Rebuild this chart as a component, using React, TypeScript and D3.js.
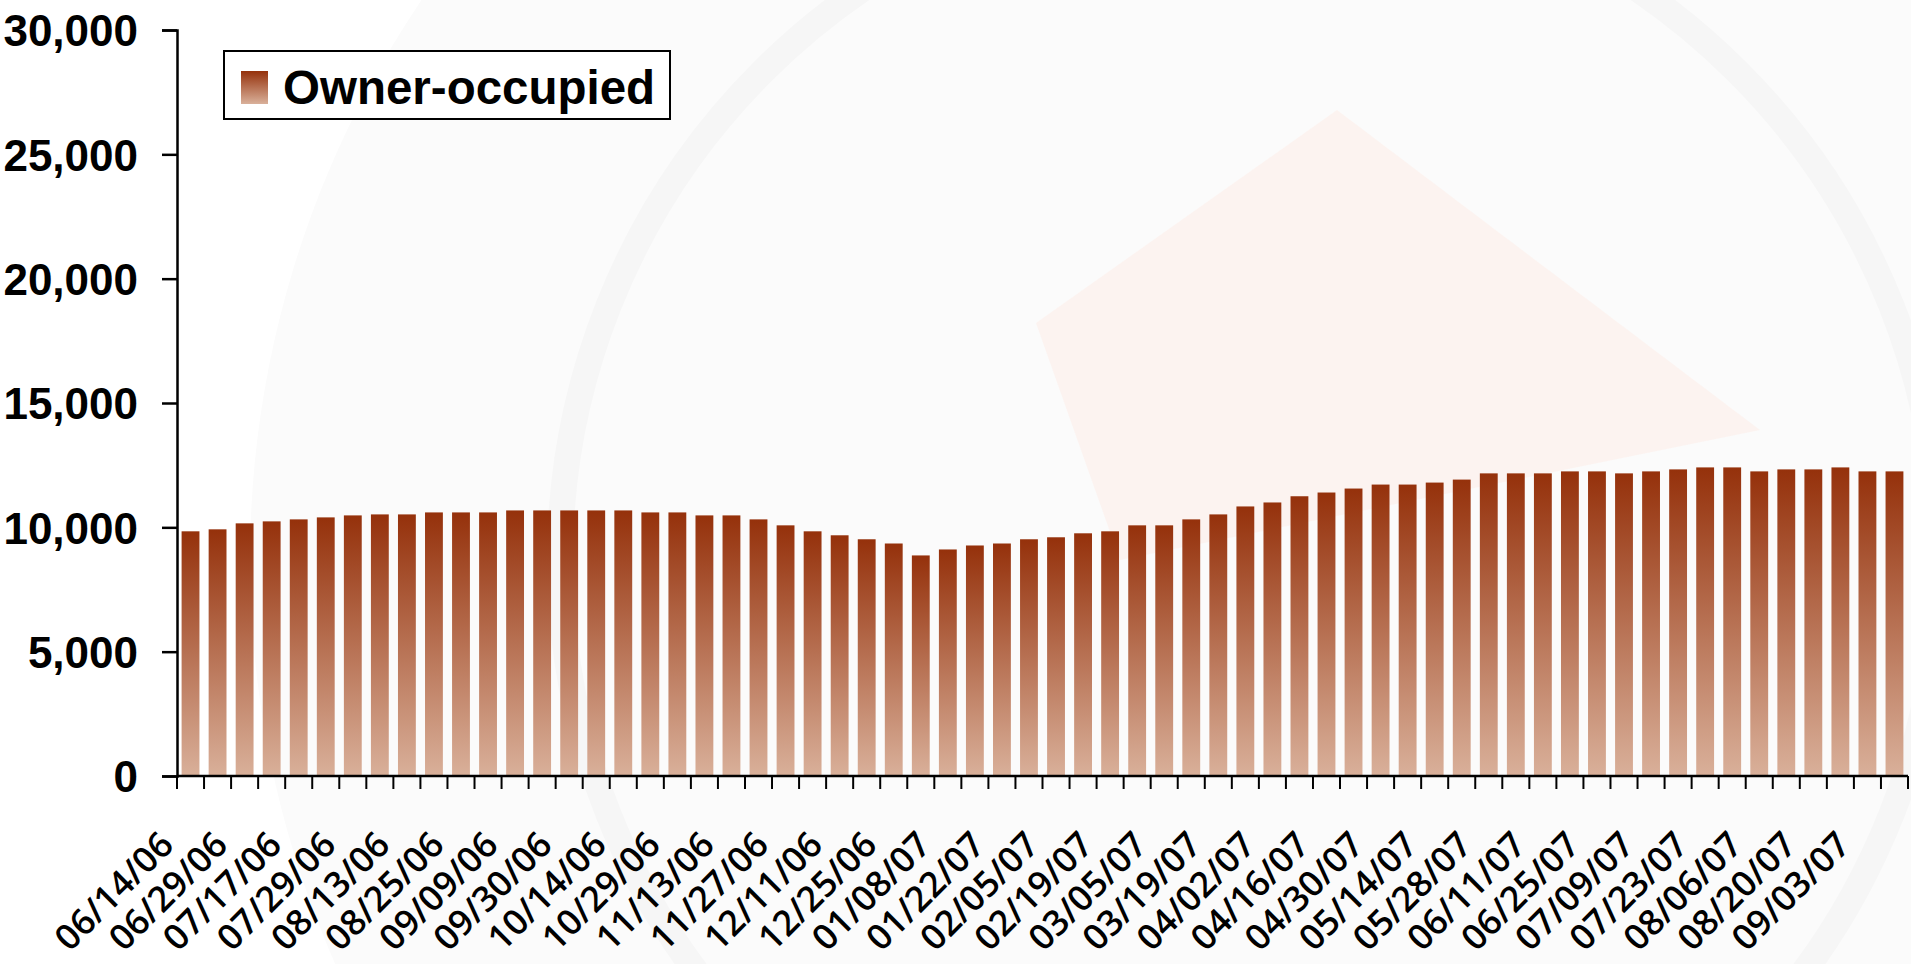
import React, { useEffect, useRef } from 'react';
import * as d3 from 'd3';

// weekly counts, one bar per survey date (labels shown on every second bar)
const values = [
  9840, 9920, 10160, 10240, 10320, 10400, 10480, 10520, 10520, 10600,
  10600, 10600, 10680, 10680, 10680, 10680, 10680, 10600, 10600, 10480,
  10480, 10320, 10080, 9840, 9680, 9520, 9350, 8870, 9110, 9270,
  9350, 9520, 9600, 9760, 9840, 10080, 10080, 10320, 10520, 10840,
  11000, 11250, 11400, 11560, 11720, 11720, 11800, 11920, 12170, 12170,
  12170, 12250, 12250, 12170, 12250, 12330, 12410, 12410, 12250, 12330,
  12330, 12410, 12250, 12250,
];

const tickLabels = [
  '06/14/06', '06/29/06', '07/17/06', '07/29/06', '08/13/06', '08/25/06', '09/09/06', '09/30/06',
  '10/14/06', '10/29/06', '11/13/06', '11/27/06', '12/11/06', '12/25/06', '01/08/07', '01/22/07',
  '02/05/07', '02/19/07', '03/05/07', '03/19/07', '04/02/07', '04/16/07', '04/30/07', '05/14/07',
  '05/28/07', '06/11/07', '06/25/07', '07/09/07', '07/23/07', '08/06/07', '08/20/07', '09/03/07',
];

const yTicks = [0, 5000, 10000, 15000, 20000, 25000, 30000];
const seriesName = 'Owner-occupied';

export default function App() {
  const svgRef = useRef<SVGSVGElement>(null);
  const W = 1911, H = 964;
  const L = 177, R = 1908, T = 30, B = 776;

  useEffect(() => {
    const svg = d3.select(svgRef.current);
    svg.selectAll('*').remove();
    const font = '"Liberation Sans", Arial, sans-serif';

    const defs = svg.append('defs');
    const grad = defs.append('linearGradient').attr('id', 'barGrad')
      .attr('x1', 0).attr('y1', 0).attr('x2', 0).attr('y2', 1);
    grad.append('stop').attr('offset', '0%').attr('stop-color', '#95310b');
    grad.append('stop').attr('offset', '100%').attr('stop-color', '#d9b09a');

    // faint watermark in the background
    const bg = svg.append('g');
    bg.append('circle').attr('cx', 1250).attr('cy', 560).attr('r', 1000).attr('fill', '#fbfbfb');
    bg.append('circle').attr('cx', 1250).attr('cy', 560).attr('r', 690)
      .attr('fill', 'none').attr('stroke', '#f6f6f6').attr('stroke-width', 26);
    bg.append('path').attr('d', 'M1036,323 L1337,110 L1760,430 L1120,560 Z')
      .attr('fill', '#fcf1ee').attr('opacity', 0.8);

    const idx = d3.range(values.length);
    const xb = d3.scaleBand<number>().domain(idx).range([L, R]);
    const x = d3.scaleBand<number>().domain(idx).range([L, R]).paddingInner(0.34).paddingOuter(0.17);
    const y = d3.scaleLinear().domain([0, 30000]).range([B, T]);

    // bars
    svg.append('g').selectAll('rect').data(values).join('rect')
      .attr('x', (_, i) => x(i)!).attr('width', x.bandwidth())
      .attr('y', d => y(d)).attr('height', d => y(0) - y(d))
      .attr('fill', 'url(#barGrad)');

    // y axis
    const yAxis = svg.append('g').attr('transform', `translate(${L},0)`)
      .call(d3.axisLeft(y).tickValues(yTicks).tickSize(15).tickPadding(24).tickFormat(d3.format(',')));
    yAxis.select('.domain').attr('stroke', '#000').attr('stroke-width', 2.5);
    yAxis.selectAll('.tick line').attr('stroke', '#000').attr('stroke-width', 2.5);
    yAxis.selectAll('text').attr('font-family', font).attr('font-size', 44)
      .attr('font-weight', 'bold').attr('fill', '#000').attr('dy', '0.36em');

    // x axis baseline and boundary ticks
    const gx = svg.append('g');
    gx.append('line').attr('x1', L).attr('x2', R).attr('y1', B).attr('y2', B)
      .attr('stroke', '#000').attr('stroke-width', 2.5);
    gx.selectAll('line.tk').data(d3.range(values.length + 1)).join('line').attr('class', 'tk')
      .attr('x1', i => L + i * xb.step()).attr('x2', i => L + i * xb.step())
      .attr('y1', B).attr('y2', B + 13).attr('stroke', '#000').attr('stroke-width', 2);

    gx.selectAll('text').data(tickLabels).join('text')
      .attr('transform', (_, i) => {
        const cx = x(i * 2)! + x.bandwidth() / 2;
        return `translate(${cx - 15},${B + 71}) rotate(-45)`;
      })
      .attr('text-anchor', 'end')
      .attr('font-family', '"Open Sans", "DejaVu Sans", sans-serif')
      .attr('font-size', 35.5).attr('font-weight', 600).attr('fill', '#000')
      .text(d => d);

    // legend
    const lg = svg.append('g');
    lg.append('rect').attr('x', 224).attr('y', 51).attr('width', 446).attr('height', 68)
      .attr('fill', '#fff').attr('stroke', '#000').attr('stroke-width', 2);
    lg.append('rect').attr('x', 241).attr('y', 71).attr('width', 27).attr('height', 33)
      .attr('fill', 'url(#barGrad)');
    lg.append('text').attr('x', 283).attr('y', 104)
      .attr('font-family', font).attr('font-size', 47.5).attr('font-weight', 'bold')
      .attr('fill', '#000').text(seriesName);
  }, []);

  return (
    <div style={{ position: 'absolute', left: 0, top: 0, background: '#fff' }}>
      <svg ref={svgRef} width={W} height={H} viewBox={`0 0 ${W} ${H}`} style={{ display: 'block' }} />
    </div>
  );
}
